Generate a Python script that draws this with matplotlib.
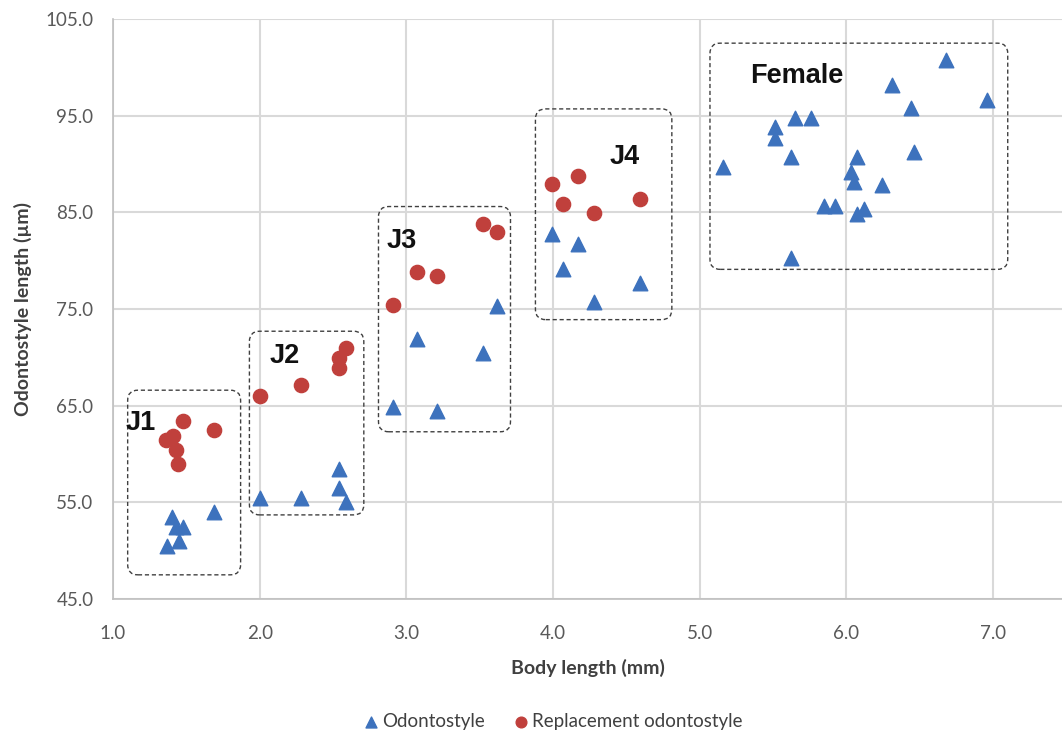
import matplotlib
matplotlib.use("Agg")
import matplotlib.pyplot as plt
from matplotlib.patches import FancyBboxPatch
from matplotlib.ticker import FormatStrFormatter

plt.rcParams['font.family'] = ['Lato', 'DejaVu Sans']

# odontostyle (blue triangles)
odo_x = [1.37, 1.40, 1.43, 1.45, 1.48, 1.69,
         2.00, 2.28, 2.54, 2.54, 2.59,
         2.91, 3.07, 3.21, 3.52, 3.62,
         3.99, 4.07, 4.17, 4.28, 4.59,
         6.68, 6.31, 6.96, 6.44, 5.65, 5.76, 5.51, 5.51, 5.62, 6.07,
         6.46, 5.16, 6.03, 6.05, 6.24, 5.85, 5.92, 6.12, 6.07, 5.62]
odo_y = [50.5, 53.5, 52.5, 51.0, 52.5, 54.0,
         55.5, 55.5, 58.4, 56.5, 55.0,
         64.9, 71.9, 64.4, 70.4, 75.3,
         82.8, 79.1, 81.7, 75.7, 77.7,
         100.8, 98.2, 96.6, 95.8, 94.8, 94.8, 93.8, 92.7, 90.7, 90.7,
         91.2, 89.7, 89.2, 88.1, 87.8, 85.7, 85.7, 85.3, 84.8, 80.3]

# replacement odontostyle (red circles)
rep_x = [1.36, 1.41, 1.43, 1.44, 1.48, 1.69,
         2.00, 2.28, 2.54, 2.54, 2.59,
         2.91, 3.07, 3.21, 3.52, 3.62,
         3.99, 4.07, 4.17, 4.28, 4.59]
rep_y = [61.5, 61.9, 60.4, 59.0, 63.4, 62.5,
         66.0, 67.1, 68.9, 69.9, 71.0,
         75.4, 78.8, 78.4, 83.8, 83.0,
         87.9, 85.9, 88.8, 84.9, 86.4]

x_ticks = [1.0, 2.0, 3.0, 4.0, 5.0, 6.0, 7.0]
y_ticks = [45.0, 55.0, 65.0, 75.0, 85.0, 95.0, 105.0]

# stage groups: label, box (x0, x1, y0, y1), label position
groups = ['J1', 'J2', 'J3', 'J4', 'Female']
boxes = [(1.10, 1.87, 47.5, 66.6),
         (1.93, 2.71, 53.7, 72.7),
         (2.81, 3.71, 62.3, 85.6),
         (3.88, 4.81, 73.9, 95.7),
         (5.07, 7.10, 79.1, 102.5)]
label_pos = [(1.19, 63.2), (2.17, 70.1), (2.97, 82.0), (4.49, 90.7), (5.66, 99.1)]

blue = '#3d72bd'
red = '#c0403c'

fig = plt.figure(figsize=(10.62, 7.32), dpi=100)
ax = fig.add_axes([113/1062, 1-599/732, 1-113/1062, (599-19)/732])

ax.scatter(odo_x, odo_y, marker='^', s=110, color=blue, zorder=3, label='Odontostyle')
ax.scatter(rep_x, rep_y, marker='o', s=105, color=red, zorder=3, label='Replacement odontostyle')

ax.set_xlim(1.0, 7.47)
ax.set_ylim(45, 105)
ax.set_xticks(x_ticks)
ax.set_yticks(y_ticks)
ax.xaxis.set_major_formatter(FormatStrFormatter('%.1f'))
ax.yaxis.set_major_formatter(FormatStrFormatter('%.1f'))
ax.grid(True, color='#d9d9d9', lw=1.5, zorder=0)
ax.set_axisbelow(True)
for s in ['top', 'right']:
    ax.spines[s].set_visible(False)
for s in ['left', 'bottom']:
    ax.spines[s].set_color('#bfbfbf')
    ax.spines[s].set_linewidth(1.2)
ax.tick_params(length=0, labelsize=13.5, labelcolor='#595959')
ax.tick_params(axis='y', pad=14)
ax.tick_params(axis='x', pad=19)

ax.set_xlabel('Body length (mm)', fontsize=14, fontweight='bold', color='#404040', labelpad=12)
ax.set_ylabel('Odontostyle length (µm)', fontsize=14, fontweight='bold', color='#404040', labelpad=10)

# rounded dashed group boxes
asp = (1/9.67) / (1/146.6)
for (x0, x1, y0, y1), name, (lx, ly) in zip(boxes, groups, label_pos):
    p = FancyBboxPatch((x0, y0), x1 - x0, y1 - y0,
                       boxstyle='round,pad=0,rounding_size=0.07',
                       mutation_aspect=asp, fill=False, ec='#404040',
                       lw=1.0, ls=(0, (3, 2)), zorder=2)
    ax.add_patch(p)
    ax.text(lx, ly, name, fontsize=19.5, fontweight='bold', family=['Liberation Sans', 'DejaVu Sans'],
            color='#111111', ha='center', va='center', zorder=4)

fig.legend(loc='lower center', bbox_to_anchor=(0.52, -0.02), ncol=2, frameon=False,
           fontsize=13.5, handletextpad=0.1, handlelength=1.0, columnspacing=1.4,
           markerscale=0.75, labelcolor='#404040')

fig.savefig('out.png', dpi=100)
